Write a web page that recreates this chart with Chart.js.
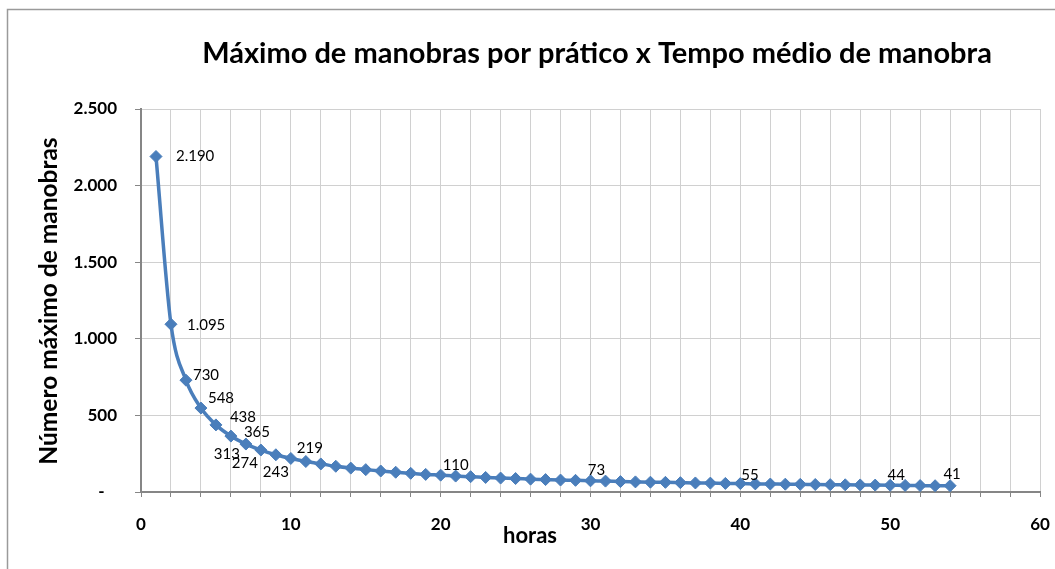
<!DOCTYPE html>
<html>
<head>
<meta charset="utf-8">
<script src="https://cdn.jsdelivr.net/npm/chart.js@4.4.1/dist/chart.umd.min.js"></script>
<style>
  html, body { margin: 0; padding: 0; background: #fff; }
  #wrap { width: 1055px; height: 569px; }
</style>
</head>
<body>
<div id="wrap"><canvas id="manobrasChart"></canvas></div>
<script>
// hours (x) and max number of manoeuvres (y)
const horas = [1, 2, 3, 4, 5, 6, 7, 8, 9, 10, 11, 12, 13, 14, 15, 16, 17, 18, 19, 20,
  21, 22, 23, 24, 25, 26, 27, 28, 29, 30, 31, 32, 33, 34, 35, 36, 37, 38, 39, 40,
  41, 42, 43, 44, 45, 46, 47, 48, 49, 50, 51, 52, 53, 54];
const manobras = [2190, 1095, 730, 548, 438, 365, 313, 274, 243, 219, 199, 183, 168, 156, 146, 137, 129, 122, 115, 110,
  104, 100, 95, 91, 88, 84, 81, 78, 76, 73, 71, 68, 66, 64, 63, 61, 59, 58, 56, 55,
  53, 52, 51, 50, 49, 48, 47, 46, 45, 44, 43, 42, 41, 41];
const horasComRotulo = [1, 2, 3, 4, 5, 6, 7, 8, 9, 10, 20, 30, 40, 50, 54];
const yTickLabels = ['-   ', '500', '1.000', '1.500', '2.000', '2.500'];
const xTickLabels = ['0', '10', '20', '30', '40', '50', '60'];

const titulo = 'Máximo de manobras por prático x Tempo médio de manobra';
const tituloX = 'horas';
const tituloY = 'Número máximo de manobras';

// label placement relative to its point: [align, dx, dy]
const labelPlacement = {
  1: ['left', 20, 0], 2: ['left', 16, 1], 3: ['left', 7, -5], 4: ['left', 7, -10],
  5: ['left', 14, -8], 6: ['left', 13, -4], 7: ['right', -6, 10], 8: ['right', -3, 13],
  9: ['center', 0, 17], 10: ['left', 6, -10], 20: ['left', 2, -10], 30: ['center', 6, -11],
  40: ['left', 1, -8], 50: ['center', 6, -10], 54: ['center', 2, -12]
};

const fmt = v => String(v).replace(/\B(?=(\d{3})+(?!\d))/g, '.');

Chart.defaults.font.family = 'Lato, "Open Sans", sans-serif';
Chart.defaults.color = '#000';

const extras = {
  id: 'extras',
  beforeDraw(chart) {
    const ctx = chart.ctx;
    ctx.save();
    ctx.fillStyle = '#fff';
    ctx.fillRect(0, 0, chart.width, chart.height);
    // outer chart border (only left/top visible in the frame)
    ctx.strokeStyle = '#9a9a9a';
    ctx.lineWidth = 1.5;
    ctx.strokeRect(7.5, 9.5, chart.width + 20, chart.height + 20);
    ctx.restore();
  },
  afterDatasetsDraw(chart) {
    const ctx = chart.ctx;
    const meta = chart.getDatasetMeta(0);
    ctx.save();
    ctx.font = '15px Lato, sans-serif';
    ctx.fillStyle = '#000';
    ctx.textBaseline = 'middle';
    horas.forEach((h, i) => {
      if (!horasComRotulo.includes(h)) return;
      const pt = meta.data[i];
      const [align, dx, dy] = labelPlacement[h];
      ctx.textAlign = align;
      ctx.fillText(fmt(manobras[i]), pt.x + dx, pt.y + dy);
    });

    // titles
    ctx.fillStyle = '#000';
    ctx.textBaseline = 'alphabetic';
    ctx.textAlign = 'center';
    ctx.font = 'bold 29px Lato, sans-serif';
    ctx.fillText(titulo, 597, 63);
    ctx.font = 'bold 22px Lato, sans-serif';
    ctx.fillText(tituloX, 530, 543);
    ctx.font = 'bold 24.5px Lato, sans-serif';
    ctx.translate(57, 301);
    ctx.rotate(-Math.PI / 2);
    ctx.fillText(tituloY, 0, 0);
    ctx.restore();
  }
};

new Chart(document.getElementById('manobrasChart'), {
  type: 'line',
  data: {
    datasets: [{
      data: horas.map((h, i) => ({ x: h, y: manobras[i] })),
      borderColor: '#4a7ebb',
      backgroundColor: '#4a7ebb',
      borderWidth: 3.5,
      pointStyle: 'rectRot',
      pointRadius: 6,
      pointBorderWidth: 1,
      cubicInterpolationMode: 'monotone',
      clip: false
    }]
  },
  options: {
    responsive: true,
    maintainAspectRatio: false,
    animation: false,
    layout: { padding: { left: 0, right: 15, top: 109, bottom: 0 } },
    plugins: { legend: { display: false }, title: { display: false }, tooltip: { enabled: false } },
    scales: {
      x: {
        type: 'linear',
        min: 0,
        max: 60,
        afterFit: s => { s.height = 77; s.paddingLeft = 0; s.paddingRight = 0; },
        ticks: {
          stepSize: 2,
          autoSkip: false,
          maxRotation: 0,
          padding: 17,
          font: { size: 17, weight: 'bold' },
          callback: v => (v % 10 === 0 ? xTickLabels[v / 10] : '')
        },
        grid: { color: '#d0d0d0', lineWidth: 1, tickLength: 5, tickColor: '#868686' },
        border: { color: '#868686', width: 2 }
      },
      y: {
        min: 0,
        max: 2500,
        afterFit: s => { s.width = 141; s.paddingTop = 0; s.paddingBottom = 0; },
        ticks: {
          stepSize: 500,
          padding: 18,
          font: { size: 17, weight: 'bold' },
          callback: v => yTickLabels[v / 500]
        },
        grid: { color: '#d0d0d0', lineWidth: 1, tickLength: 6, tickColor: '#868686' },
        border: { color: '#868686', width: 2 }
      }
    }
  },
  plugins: [extras]
});
</script>
</body>
</html>
